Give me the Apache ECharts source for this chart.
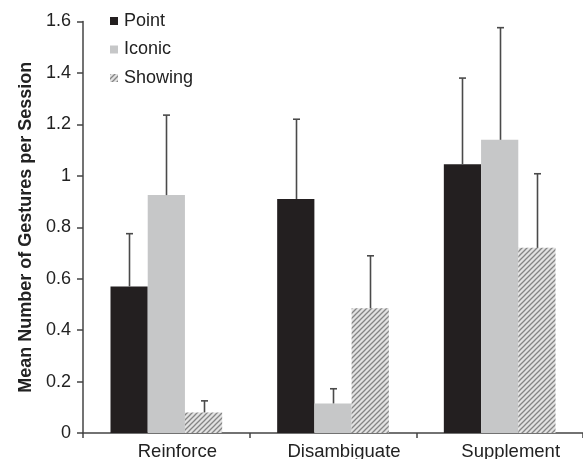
<!DOCTYPE html>
<html>
<head>
<meta charset="utf-8">
<script src="https://cdn.jsdelivr.net/npm/echarts@6/dist/echarts.min.js"></script>
<style>
html,body{margin:0;padding:0;background:#fff;}
#chart{width:583px;height:459px;}
</style>
</head>
<body>
<div id="chart"></div>
<script>
const categories = ['Reinforce', 'Disambiguate', 'Supplement'];
const seriesNames = ['Point', 'Iconic', 'Showing'];
const pointMean = [0.57, 0.91, 1.045];
const iconicMean = [0.925, 0.115, 1.14];
const showingMean = [0.08, 0.485, 0.72];
const pointUpper = [0.775, 1.22, 1.38];
const iconicUpper = [1.236, 0.172, 1.576];
const showingUpper = [0.125, 0.689, 1.008];
const yTicks = [0, 0.2, 0.4, 0.6, 0.8, 1, 1.2, 1.4, 1.6];

const FONT = '"Liberation Sans", Arial, sans-serif';

function makeHatch() {
  const s = 5;
  const c = document.createElement('canvas');
  c.width = s; c.height = s;
  const ctx = c.getContext('2d');
  ctx.fillStyle = '#e2e2e2';
  ctx.fillRect(0, 0, s, s);
  ctx.strokeStyle = '#858585';
  ctx.lineWidth = 1.3;
  ctx.beginPath();
  ctx.moveTo(0, s); ctx.lineTo(s, 0);
  ctx.moveTo(-1, 1); ctx.lineTo(1, -1);
  ctx.moveTo(s - 1, s + 1); ctx.lineTo(s + 1, s - 1);
  ctx.stroke();
  return c;
}

const colors = ['#231f20', '#c6c7c8', { image: makeHatch(), repeat: 'repeat' }];
const means = [pointMean, iconicMean, showingMean];
const uppers = [pointUpper, iconicUpper, showingUpper];
const CAT_GAP = 0.33;

const chart = echarts.init(document.getElementById('chart'));

const series = [];
seriesNames.forEach((name, i) => {
  series.push({
    name: name,
    type: 'bar',
    data: means[i],
    barGap: '0%',
    barCategoryGap: (CAT_GAP * 100) + '%',
    itemStyle: { color: colors[i] },
    silent: true,
    z: 2
  });
});
seriesNames.forEach((name, i) => {
  series.push({
    type: 'custom',
    name: name + ' err',
    silent: true,
    z: 3,
    data: categories.map((c, k) => [k, means[i][k], uppers[i][k]]),
    renderItem: function (params, api) {
      const band = api.size([1, 0])[0];
      const barW = band * (1 - CAT_GAP) / 3;
      const offset = (i - 1) * barW;
      const p0 = api.coord([api.value(0), api.value(1)]);
      const p1 = api.coord([api.value(0), api.value(2)]);
      const x = Math.round(p0[0] + offset) + 0.5;
      const style = { stroke: '#4a4a4a', lineWidth: 1.6 };
      return {
        type: 'group',
        children: [
          { type: 'line', shape: { x1: x, y1: p0[1], x2: x, y2: p1[1] }, style: style },
          { type: 'line', shape: { x1: x - 3.5, y1: p1[1], x2: x + 3.5, y2: p1[1] }, style: style }
        ]
      };
    }
  });
});

chart.setOption({
  animation: false,
  textStyle: { fontFamily: FONT },
  legend: {
    data: seriesNames,
    orient: 'vertical',
    left: 110,
    top: 12,
    padding: 0,
    itemWidth: 8,
    itemHeight: 8,
    itemGap: 10.5,
    icon: 'rect',
    selectedMode: false,
    textStyle: { fontFamily: FONT, fontSize: 18, color: '#222', padding: [0, 0, 0, 1] }
  },
  grid: { left: 83, right: 0, top: 21.5, bottom: 26, containLabel: false, outerBoundsMode: 'none' },
  xAxis: {
    type: 'category',
    data: categories,
    axisLine: { lineStyle: { color: '#444', width: 1.5 } },
    axisTick: { show: true, length: 5, alignWithLabel: false, lineStyle: { color: '#444', width: 1.5 } },
    axisLabel: { fontFamily: FONT, fontSize: 18.5, color: '#222', margin: 9, padding: [0, 0, 0, 22] }
  },
  yAxis: {
    type: 'value',
    min: 0,
    max: 1.6,
    interval: 0.2,
    name: 'Mean Number of Gestures per Session',
    nameLocation: 'middle',
    nameGap: 47,
    nameTextStyle: { fontFamily: FONT, fontSize: 18, fontWeight: 'bold', color: '#222' },
    splitLine: { show: false },
    axisLine: { show: true, lineStyle: { color: '#444', width: 1.5 } },
    axisTick: { show: true, length: 6, lineStyle: { color: '#444', width: 1.5 } },
    axisLabel: {
      fontFamily: FONT, fontSize: 18, color: '#222', margin: 12,
      formatter: function (v) {
        const t = yTicks.find(tt => Math.abs(tt - v) < 1e-6);
        return t === undefined ? '' : String(t);
      }
    }
  },
  series: series
});
</script>
</body>
</html>
